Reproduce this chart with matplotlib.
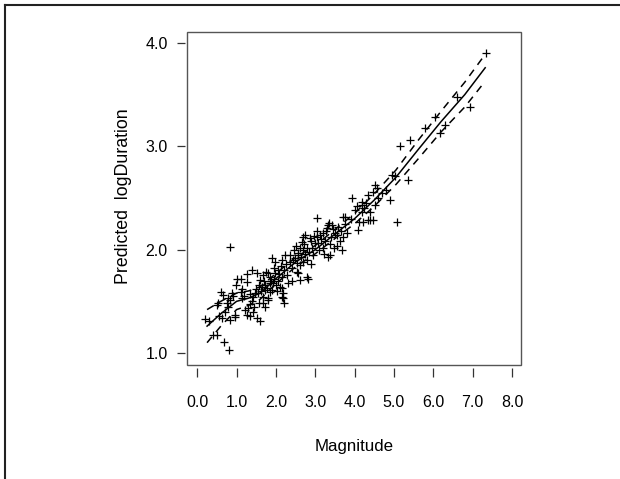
import matplotlib
matplotlib.use("Agg")
import matplotlib.pyplot as plt
from matplotlib.patches import Rectangle
from matplotlib.lines import Line2D

plt.rcParams['font.family'] = ['Liberation Sans', 'DejaVu Sans']

pts = [
    (0.20, 1.33), (0.30, 1.31), (0.40, 1.17), (0.50, 1.17), (0.68, 1.11), (0.80, 1.03), (0.83, 2.03),
    (0.50, 1.46), (0.52, 1.48), (0.60, 1.59), (0.65, 1.56), (0.77, 1.53), (0.83, 1.51), (0.79, 1.45),
    (0.63, 1.34), (0.83, 1.32), (0.96, 1.37), (0.98, 1.66), (1.00, 1.72), (0.76, 1.48), (0.96, 1.35),
    (0.90, 1.55), (0.88, 1.58), (0.55, 1.36), (0.70, 1.40),
    (1.10, 1.59), (1.13, 1.53), (1.26, 1.69), (1.22, 1.42), (1.30, 1.44), (1.26, 1.37), (1.33, 1.36),
    (1.42, 1.40), (1.42, 1.54), (1.52, 1.34), (1.60, 1.31), (1.15, 1.62), (1.20, 1.55), (1.35, 1.47),
    (1.38, 1.50), (1.45, 1.45), (1.48, 1.58), (1.50, 1.62), (1.40, 1.80), (1.52, 1.77), (1.55, 1.58),
    (1.58, 1.48), (1.35, 1.57), (1.12, 1.72), (1.26, 1.76),
    (1.60, 1.71), (1.65, 1.64), (1.73, 1.61), (1.68, 1.54), (1.80, 1.51), (1.90, 1.61), (1.93, 1.68),
    (1.85, 1.74), (1.98, 1.77), (2.05, 1.80), (2.15, 1.74), (2.19, 1.53), (2.18, 1.58), (2.15, 1.63),
    (1.90, 1.92), (1.98, 1.88), (2.15, 1.90), (2.23, 1.95), (1.80, 1.77), (1.85, 1.68), (2.10, 1.64),
    (2.15, 1.54), (1.85, 1.59), (1.80, 1.53), (1.70, 1.70), (1.75, 1.78), (1.62, 1.60), (1.72, 1.66),
    (1.78, 1.63), (1.88, 1.70), (1.95, 1.72), (2.00, 1.66), (2.05, 1.70), (2.08, 1.76), (2.12, 1.84),
    (2.20, 1.80), (2.25, 1.86), (2.28, 1.75), (1.66, 1.48), (1.72, 1.45), (2.20, 1.48), (1.95, 1.82),
    (1.58, 1.66), (1.68, 1.75), (2.02, 1.60),
    (2.36, 1.88), (2.49, 1.92), (2.56, 1.95), (2.61, 1.71), (2.82, 1.72), (2.53, 1.78), (2.69, 1.88),
    (2.69, 2.12), (2.87, 2.11), (2.74, 2.14), (2.66, 2.07), (2.56, 1.97), (2.69, 2.00), (2.92, 2.02),
    (2.43, 1.90), (2.53, 1.87), (2.56, 1.77), (2.79, 1.74), (2.40, 1.82), (2.45, 2.00), (2.60, 1.85),
    (2.65, 1.93), (2.75, 1.96), (2.80, 1.90), (2.85, 1.98), (2.90, 2.08), (2.95, 1.95), (2.35, 1.95),
    (2.50, 2.04), (2.62, 2.02), (2.72, 2.05), (2.78, 2.02), (2.88, 1.86), (2.98, 2.13), (2.40, 1.70),
    (2.30, 1.68),
    (3.04, 2.12), (3.20, 2.16), (3.38, 2.05), (3.55, 2.14), (3.37, 1.95), (3.70, 2.12), (3.04, 2.31),
    (3.33, 2.24), (3.30, 2.21), (3.50, 2.16), (3.70, 2.32), (3.07, 2.06), (3.00, 2.06), (3.20, 2.02),
    (3.33, 1.93), (3.10, 2.00), (3.15, 2.10), (3.25, 2.08), (3.28, 2.18), (3.40, 2.12), (3.45, 2.20),
    (3.58, 2.22), (3.62, 2.08), (3.65, 2.18), (3.75, 2.25), (3.12, 2.14), (3.22, 1.96), (3.48, 2.02),
    (3.35, 2.26), (3.05, 2.18), (3.42, 2.24), (3.55, 2.04), (3.68, 2.00), (3.76, 2.32), (3.80, 2.16),
    (3.94, 2.50), (4.19, 2.46), (4.19, 2.43), (4.19, 2.36), (4.10, 2.27), (4.09, 2.19), (4.40, 2.29),
    (4.35, 2.53), (4.48, 2.56), (4.53, 2.63), (4.58, 2.60), (4.40, 2.36), (4.22, 2.27), (4.90, 2.48),
    (4.53, 2.43), (4.95, 2.72), (5.08, 2.27), (5.37, 2.67), (4.33, 2.29), (4.48, 2.29), (3.90, 2.30),
    (4.00, 2.38), (4.05, 2.42), (4.25, 2.40), (4.30, 2.45), (4.60, 2.50), (4.70, 2.55), (4.80, 2.58),
    (5.03, 2.71), (5.16, 3.00), (5.40, 3.06),
    (5.80, 3.18), (6.05, 3.28), (6.18, 3.13), (6.30, 3.21), (6.61, 3.48), (6.94, 3.38), (7.35, 3.90),
]
mag = [p[0] for p in pts]
logdur = [p[1] for p in pts]

# fitted curve and its band
fit_x = [0.25, 0.6, 1.0, 1.3, 1.6, 2.0, 2.5, 3.0, 3.63, 4.0, 4.5, 5.05, 5.62, 6.2, 6.8, 7.32]
fit_y = [1.26, 1.38, 1.50, 1.53, 1.58, 1.72, 1.88, 2.00, 2.19, 2.30, 2.48, 2.70, 2.97, 3.24, 3.50, 3.76]
fit_hw = [0.16, 0.12, 0.08, 0.07, 0.06, 0.05, 0.045, 0.04, 0.045, 0.05, 0.06, 0.07, 0.09, 0.10, 0.12, 0.13]

xticks = [0, 1, 2, 3, 4, 5, 6, 7, 8]
yticks = [1, 2, 3, 4]

fig = plt.figure(figsize=(6.2, 4.79), dpi=100)
ax = fig.add_axes([187 / 620, 1 - 365 / 479, 334 / 620, 333 / 479])

ax.scatter(mag, logdur, marker='+', s=36, c='black', linewidths=0.9, zorder=3)
ax.plot(fit_x, fit_y, color='black', lw=1.1)
ax.plot(fit_x, [y + h for y, h in zip(fit_y, fit_hw)], color='black', lw=1.1, dashes=(5, 4))
ax.plot(fit_x, [y - h for y, h in zip(fit_y, fit_hw)], color='black', lw=1.1, dashes=(5, 4))

ax.set_xlim(-0.26, 8.23)
ax.set_ylim(0.884, 4.106)
ax.set_xticks(xticks)
ax.set_xticklabels([f"{v:.1f}" for v in xticks])
ax.set_yticks(yticks)
ax.set_yticklabels([f"{v:.1f}" for v in yticks])

# R style: detached ticks, box drawn separately
for s in ax.spines.values():
    s.set_visible(False)
ax.spines['bottom'].set_position(('outward', 2.2))
ax.spines['left'].set_position(('outward', 1.5))
ax.tick_params(axis='x', length=6.5, width=0.9, color='#333333', pad=13, labelsize=11.5)
ax.tick_params(axis='y', length=5.5, width=0.9, color='#333333', pad=7, labelsize=11.5)
ax.add_patch(Rectangle((0, 0), 1, 1, transform=ax.transAxes, fill=False,
                       lw=1.0, edgecolor='#555555', clip_on=False))

fig.text(354 / 620, 1 - 446 / 479, "Magnitude", ha='center', va='center', fontsize=12.2)
fig.text(123 / 620, 1 - 196 / 479, "Predicted  logDuration", ha='center', va='center',
         rotation=90, fontsize=12.8)

# outer frame (top and left edges)
fig.add_artist(Line2D([4.5 / 620, 4.5 / 620], [0, 1 - 5 / 479], transform=fig.transFigure,
                      color='#222222', lw=1.5))
fig.add_artist(Line2D([4.5 / 620, 1], [1 - 5 / 479, 1 - 5 / 479], transform=fig.transFigure,
                      color='#222222', lw=1.5))

fig.savefig("out.png", dpi=100)
